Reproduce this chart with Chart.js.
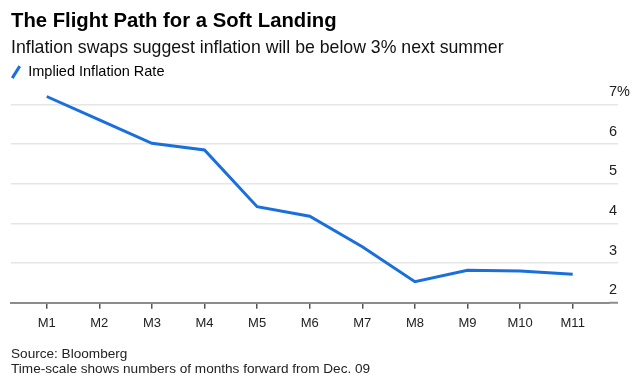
<!DOCTYPE html>
<html>
<head>
<meta charset="utf-8">
<script src="https://cdn.jsdelivr.net/npm/chart.js@4.4.1/dist/chart.umd.min.js"></script>
<style>
  html, body { margin: 0; padding: 0; background: #fff; }
  #wrap { position: relative; width: 635px; height: 388px; overflow: hidden; }
  #c { position: absolute; left: 0; top: 0; }
  #foot { position: absolute; left: 11px; top: 346px; font-family: "Liberation Sans", Arial, sans-serif;
          font-size: 13.6px; line-height: 15px; color: #222; white-space: nowrap; }
</style>
</head>
<body>
<div id="wrap">
  <canvas id="c" width="635" height="388"></canvas>
  <div id="foot">Source: Bloomberg<br>Time-scale shows numbers of months forward from Dec. 09</div>
</div>
<script>
const categories = ['M1', 'M2', 'M3', 'M4', 'M5', 'M6', 'M7', 'M8', 'M9', 'M10', 'M11'];
const impliedRate = [7.20, 6.61, 6.02, 5.85, 4.42, 4.18, 3.41, 2.53, 2.82, 2.80, 2.72];
const yTickValues = [2, 3, 4, 5, 6, 7];
const yTickLabels = ['2', '3', '4', '5', '6', '7%'];

const FONT = '"Liberation Sans", Arial, sans-serif';
const points = categories.map((c, i) => ({ x: i + 1, y: impliedRate[i] }));

new Chart(document.getElementById('c'), {
  type: 'line',
  data: {
    datasets: [{
      label: 'Implied Inflation Rate',
      data: points,
      borderColor: '#1b6fdc',
      backgroundColor: '#1b6fdc',
      borderWidth: 3,
      pointRadius: 0,
      tension: 0,
      fill: false
    }]
  },
  options: {
    responsive: false,
    animation: false,
    layout: { padding: { left: 11, right: 0, top: 0, bottom: 49.7 } },
    plugins: {
      title: {
        display: true,
        text: 'The Flight Path for a Soft Landing',
        align: 'start',
        color: '#000',
        font: { family: FONT, size: 20.3, weight: 'bold', lineHeight: 1.2 },
        padding: { top: 9.5, bottom: 0 }
      },
      subtitle: {
        display: true,
        text: 'Inflation swaps suggest inflation will be below 3% next summer',
        align: 'start',
        color: '#111',
        font: { family: FONT, size: 17.7, lineHeight: 1.2 },
        padding: { top: 3.4, bottom: 6.4 }
      },
      legend: {
        display: true,
        align: 'start',
        labels: {
          usePointStyle: true,
          boxWidth: 10,
          boxHeight: 10,
          padding: 0,
          color: '#000',
          font: { family: FONT, size: 14.5 },
          generateLabels: (chart) => chart.data.datasets.map((ds, i) => ({
            text: ds.label,
            datasetIndex: i,
            pointStyle: 'line',
            rotation: -58,
            strokeStyle: ds.borderColor,
            fillStyle: ds.borderColor,
            lineWidth: 3,
            hidden: false
          }))
        }
      },
      tooltip: { enabled: false }
    },
    scales: {
      x: {
        type: 'linear',
        min: 0.321,
        max: 11.69,
        afterBuildTicks: (scale) => { scale.ticks = categories.map((c, i) => ({ value: i + 1 })); },
        ticks: {
          callback: (v) => categories[Math.round(v) - 1],
          color: '#222',
          font: { family: FONT, size: 13 },
          padding: 7,
          maxRotation: 0,
          autoSkip: false
        },
        grid: {
          display: true,
          drawOnChartArea: false,
          drawTicks: true,
          tickLength: 6,
          color: '#555',
          lineWidth: 1.5
        },
        border: { display: true, color: '#8c8c8c', width: 2 }
      },
      y: {
        type: 'linear',
        position: 'right',
        min: 2,
        max: 7.379,
        afterBuildTicks: (scale) => { scale.ticks = yTickValues.map(v => ({ value: v })); },
        afterFit: (scale) => { scale.width = 26; },
        ticks: {
          callback: (v) => yTickLabels[yTickValues.indexOf(v)],
          color: '#222',
          font: { family: FONT, size: 14.5 },
          padding: -9,
          labelOffset: -12.5,
          crossAlign: 'near',
          autoSkip: false
        },
        grid: {
          display: true,
          drawTicks: true,
          tickLength: 9,
          color: '#e6e6e6',
          lineWidth: 1.5,
          tickColor: (ctx) => (ctx.tick && ctx.tick.value === yTickValues[0]) ? '#8c8c8c' : '#e6e6e6',
          tickWidth: (ctx) => (ctx.tick && ctx.tick.value === yTickValues[0]) ? 2 : 1.5
        },
        border: { display: false }
      }
    }
  }
});
</script>
</body>
</html>
